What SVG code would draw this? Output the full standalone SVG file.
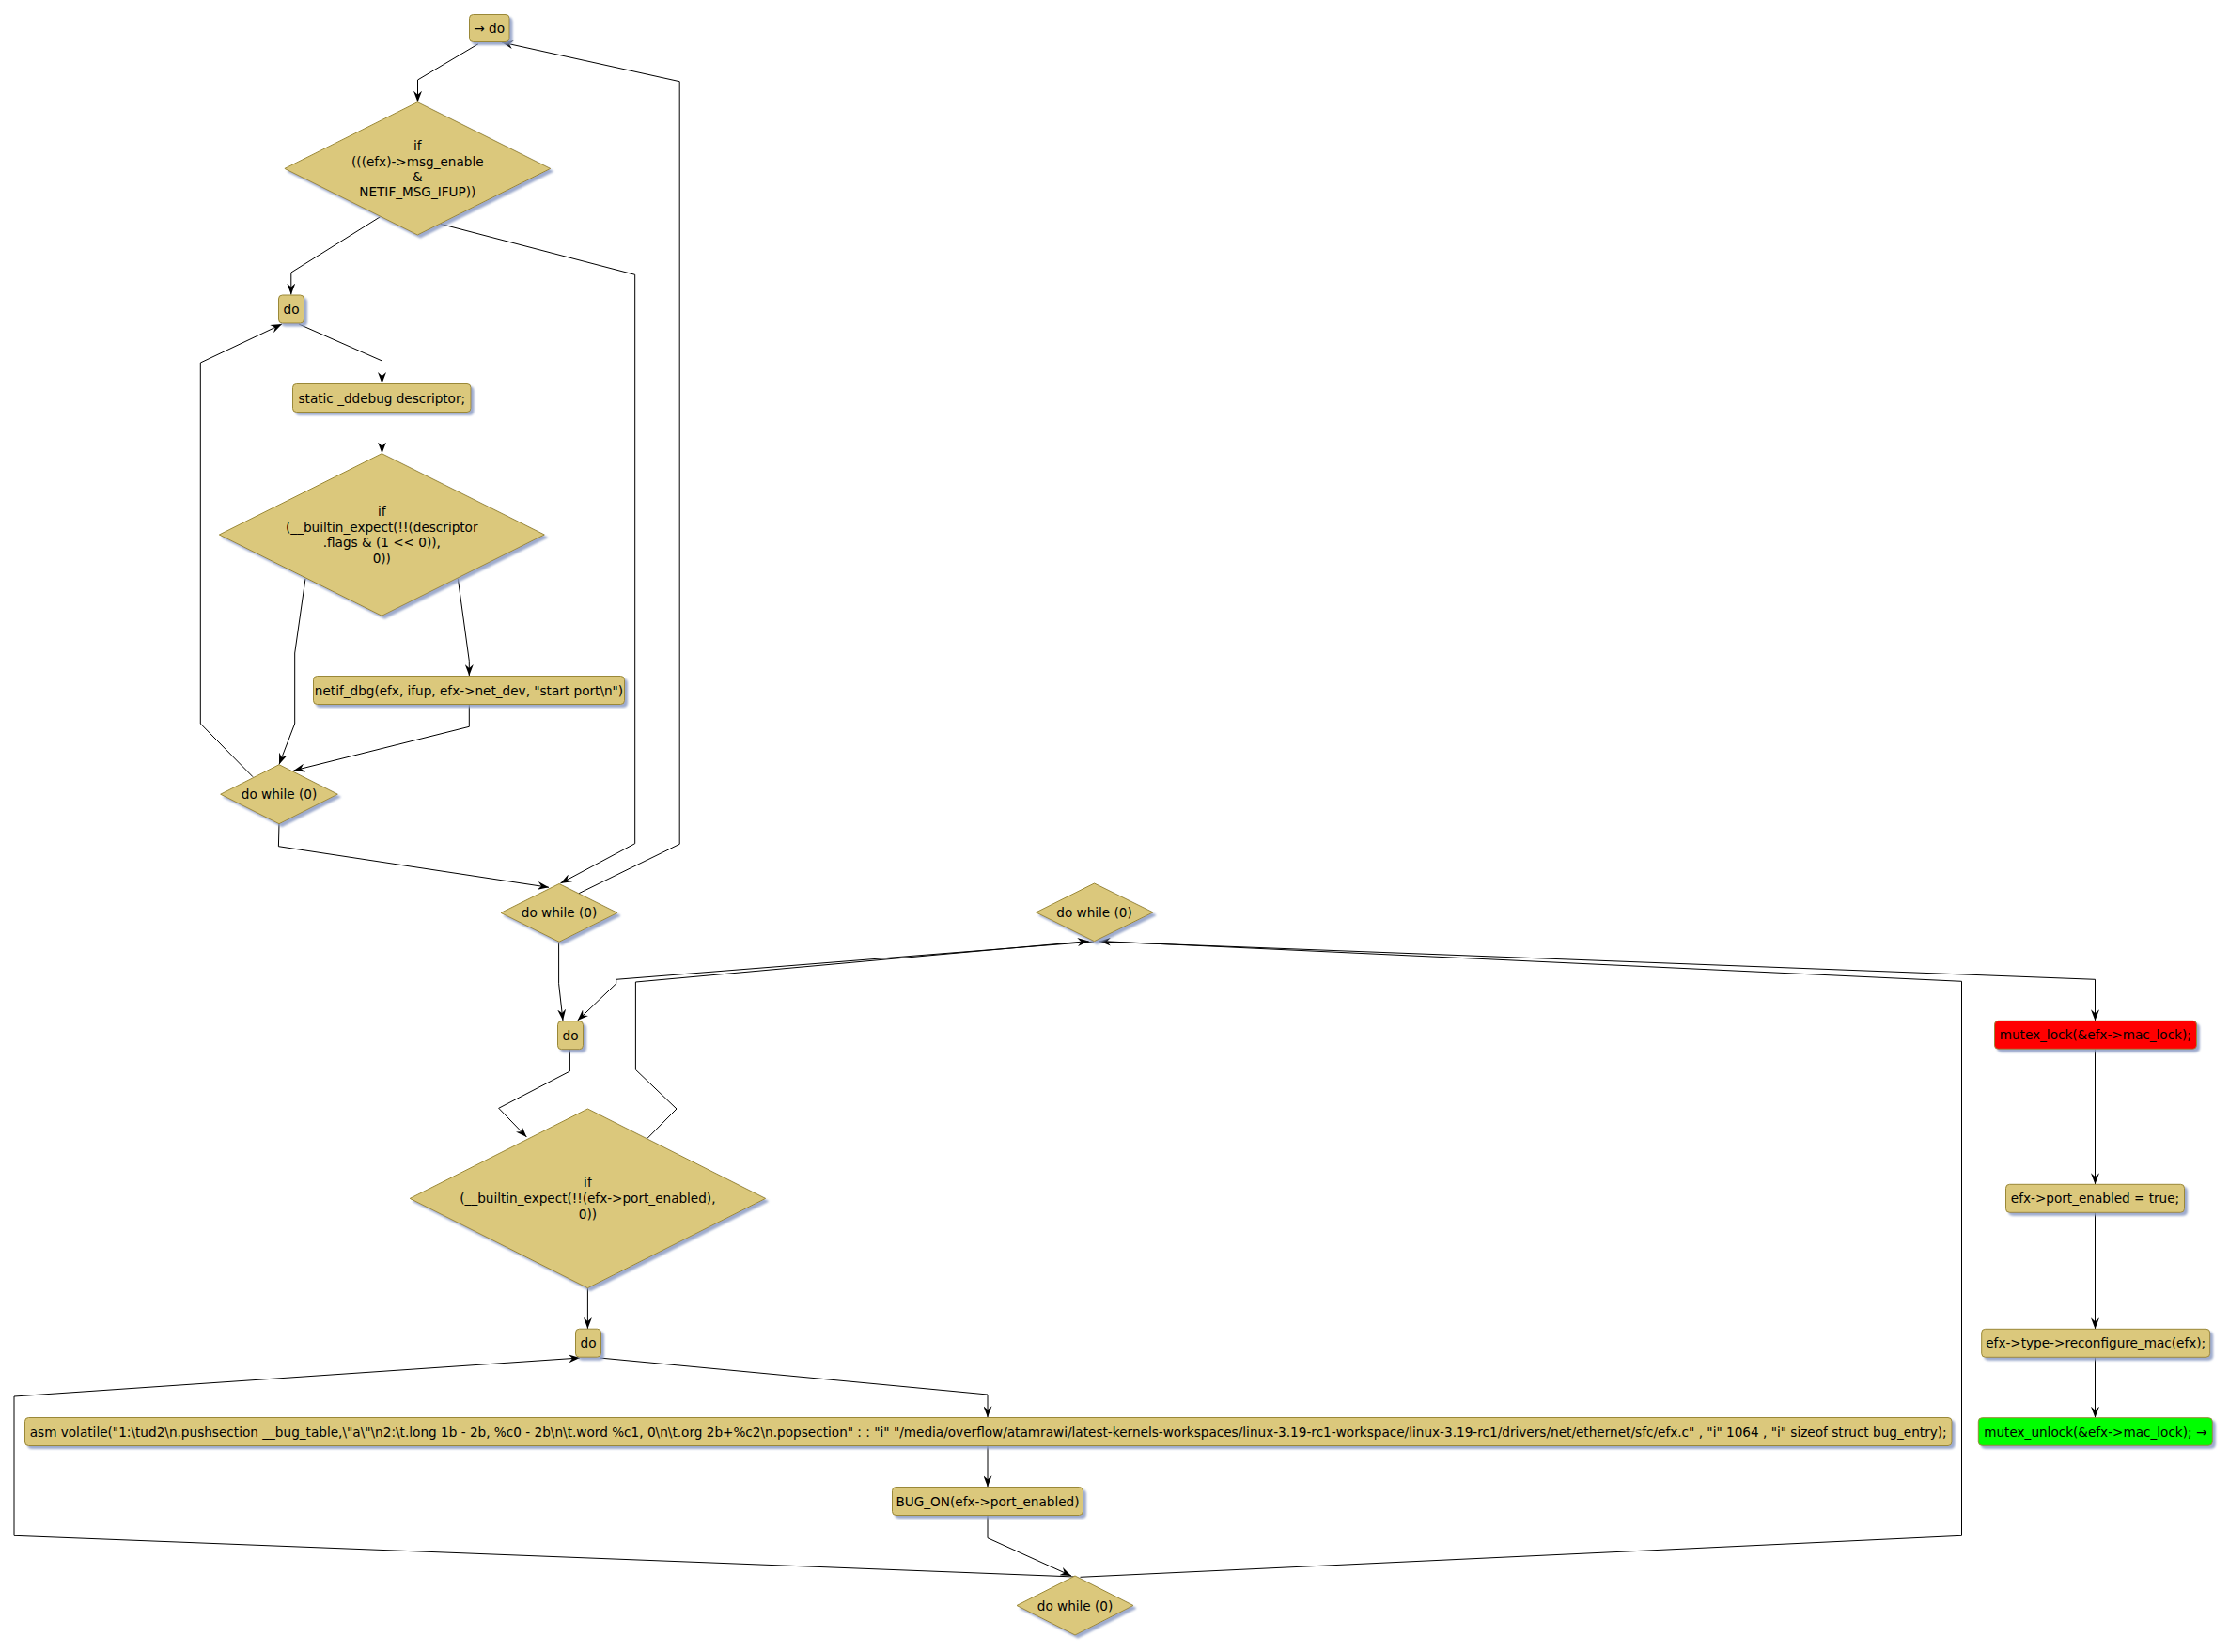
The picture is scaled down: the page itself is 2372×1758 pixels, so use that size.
<svg xmlns="http://www.w3.org/2000/svg" width="2372" height="1758" viewBox="0 0 2372 1758">
<defs>
<filter id="sh" x="-10%" y="-10%" width="130%" height="140%">
<feDropShadow dx="3" dy="3" stdDeviation="0.8" flood-color="#8C9CC4" flood-opacity="0.85"/>
</filter>
<marker id="ah" viewBox="0 0 12 9" refX="12" refY="4.5" markerWidth="12" markerHeight="9" markerUnits="userSpaceOnUse" orient="auto">
<path d="M0,0 L12,4.5 L0,9 L4,4.5 Z" fill="#000"/>
</marker>
<style>
.n{fill:#DBC87B;stroke:#9A8838;stroke-width:1;filter:url(#sh)}
.red{fill:#FF0000}
.grn{fill:#00FF00}
.t{font-family:"DejaVu Sans","Liberation Sans",sans-serif;font-size:13.6px;fill:#000;text-anchor:middle}
.e{fill:none;stroke:#000;stroke-width:1;marker-end:url(#ah)}
</style>
</defs>
<rect width="2372" height="1758" fill="#fff"/>

<g id="connectors">
<polyline class="e" points="509,46.7 444.5,85 444.5,108.7"/>
<polyline class="e" points="404.6,230.7 309.8,290 309.8,313.5"/>
<polyline class="e" points="468.6,238.3 675.7,292.3 675.7,897.7 596.4,940"/>
<polyline class="e" points="616,950.7 723.2,898.3 723.2,86.7 534,45"/>
<polyline class="e" points="318,345 406.5,384 406.5,408"/>
<polyline class="e" points="406.5,438.7 406.5,482.5"/>
<polyline class="e" points="325,615.7 313.7,695 313.7,770 297,813.5"/>
<polyline class="e" points="487.3,615.7 499.3,703.3 499.3,719"/>
<polyline class="e" points="499.3,749.3 499.3,773.3 312.5,820"/>
<polyline class="e" points="269,826.7 213.3,770 213.3,386 300,345"/>
<polyline class="e" points="297,876.7 296.4,900.7 584,944.3"/>
<polyline class="e" points="594.6,1002.3 594.6,1046.7 599,1086"/>
<polyline class="e" points="1164,1002 655.7,1042.3 655.7,1046.7 614.6,1086"/>
<polyline class="e" points="606.4,1116.7 606.4,1140 530.7,1179.3 560.4,1210"/>
<polyline class="e" points="688.6,1211.7 720,1180 676.4,1138.3 676.4,1045 1158.6,1001.5"/>
<polyline class="e" points="625.4,1370.7 625.4,1414"/>
<polyline class="e" points="638,1445 1051,1484 1051,1508.3"/>
<polyline class="e" points="1051,1538.3 1051,1582.3"/>
<polyline class="e" points="1051,1612.7 1051,1636.7 1140,1677"/>
<polyline class="e" points="1144,1678 15,1634.3 15,1486 617,1445"/>
<polyline class="e" points="1149.5,1678.3 2087.5,1634.3 2087.5,1044.3 1170,1001.5"/>
<polyline class="e" points="1169,1002 2229.5,1042.3 2229.5,1086.3"/>
<polyline class="e" points="2229.5,1116.3 2229.5,1260.3"/>
<polyline class="e" points="2229.5,1290.3 2229.5,1414.3"/>
<polyline class="e" points="2229.5,1444.3 2229.5,1508.7"/>
</g>

<g id="start_do">
<rect class="n" x="499.5" y="15.5" width="42.5" height="29" rx="4"/>
<text class="t" x="520.7" y="35">→ do</text>
</g>
<g id="if_msg_enable">
<polygon class="n" points="444.3,108.7 585.7,179.4 444.3,250 302.9,179.4"/>
<text class="t" x="444.3" y="160">if</text>
<text class="t" x="444.3" y="177">(((efx)-&gt;msg_enable</text>
<text class="t" x="444.3" y="193">&amp;</text>
<text class="t" x="444.3" y="209">NETIF_MSG_IFUP))</text>
</g>
<g id="do_2">
<rect class="n" x="296.5" y="314" width="27" height="30" rx="4"/>
<text class="t" x="310" y="334">do</text>
</g>
<g id="static_ddebug">
<rect class="n" x="311.5" y="408.5" width="189.5" height="30" rx="4"/>
<text class="t" x="406.3" y="428.5">static _ddebug descriptor;</text>
</g>
<g id="if_descriptor">
<polygon class="n" points="406.3,482.7 579.3,569 406.3,655.3 233.3,569"/>
<text class="t" x="406.3" y="549">if</text>
<text class="t" x="406.3" y="566">(__builtin_expect(!!(descriptor</text>
<text class="t" x="406.3" y="582">.flags &amp; (1 &lt;&lt; 0)),</text>
<text class="t" x="406.3" y="599">0))</text>
</g>
<g id="netif_dbg">
<rect class="n" x="333.5" y="719.5" width="331" height="30" rx="4"/>
<text class="t" x="499" y="739.5">netif_dbg(efx, ifup, efx-&gt;net_dev, "start port\n")</text>
</g>
<g id="do_while_a">
<polygon class="n" points="297,813.7 359.3,845.2 297,876.7 234.7,845.2"/>
<text class="t" x="297" y="850">do while (0)</text>
</g>
<g id="do_while_b">
<polygon class="n" points="595,940.5 657,971.4 595,1002.3 533,971.4"/>
<text class="t" x="595" y="976">do while (0)</text>
</g>
<g id="do_while_c">
<polygon class="n" points="1164.5,940 1227,970.9 1164.5,1001.7 1102.5,970.9"/>
<text class="t" x="1164.5" y="976">do while (0)</text>
</g>
<g id="do_3">
<rect class="n" x="593.5" y="1086.7" width="27" height="30" rx="4"/>
<text class="t" x="607" y="1106.5">do</text>
</g>
<g id="if_port_enabled">
<polygon class="n" points="625.4,1180 814.6,1275.4 625.4,1370.7 436.2,1275.4"/>
<text class="t" x="625.4" y="1263">if</text>
<text class="t" x="625.4" y="1280">(__builtin_expect(!!(efx-&gt;port_enabled),</text>
<text class="t" x="625.4" y="1296.5">0))</text>
</g>
<g id="do_4">
<rect class="n" x="612.5" y="1414.2" width="27" height="30" rx="4"/>
<text class="t" x="626" y="1434">do</text>
</g>
<g id="asm_volatile">
<rect class="n" x="26.5" y="1508.5" width="2050.5" height="30" rx="4"/>
<text class="t" x="1051.7" y="1528.5" textLength="2040" lengthAdjust="spacing">asm volatile("1:\tud2\n.pushsection __bug_table,\"a\"\n2:\t.long 1b - 2b, %c0 - 2b\n\t.word %c1, 0\n\t.org 2b+%c2\n.popsection" : : "i" "/media/overflow/atamrawi/latest-kernels-workspaces/linux-3.19-rc1-workspace/linux-3.19-rc1/drivers/net/ethernet/sfc/efx.c" , "i" 1064 , "i" sizeof struct bug_entry);</text>
</g>
<g id="bug_on">
<rect class="n" x="949.5" y="1582.5" width="203" height="30" rx="4"/>
<text class="t" x="1051" y="1602.5">BUG_ON(efx-&gt;port_enabled)</text>
</g>
<g id="do_while_e">
<polygon class="n" points="1144,1677 1206,1708.5 1144,1740 1082,1708.5"/>
<text class="t" x="1144" y="1713.5">do while (0)</text>
</g>
<g id="mutex_lock">
<rect class="n red" x="2122.5" y="1086.3" width="215" height="30" rx="4"/>
<text class="t" x="2229.8" y="1106.3">mutex_lock(&amp;efx-&gt;mac_lock);</text>
</g>
<g id="port_enabled_true">
<rect class="n" x="2134.5" y="1260.3" width="190" height="30" rx="4"/>
<text class="t" x="2229.5" y="1280.3">efx-&gt;port_enabled = true;</text>
</g>
<g id="reconfigure_mac">
<rect class="n" x="2108.7" y="1414.3" width="243" height="30" rx="4"/>
<text class="t" x="2230.2" y="1434.3">efx-&gt;type-&gt;reconfigure_mac(efx);</text>
</g>
<g id="mutex_unlock">
<rect class="n grn" x="2105.3" y="1508.7" width="249" height="29.6" rx="4"/>
<text class="t" x="2229.8" y="1528.5">mutex_unlock(&amp;efx-&gt;mac_lock); →</text>
</g>
</svg>
